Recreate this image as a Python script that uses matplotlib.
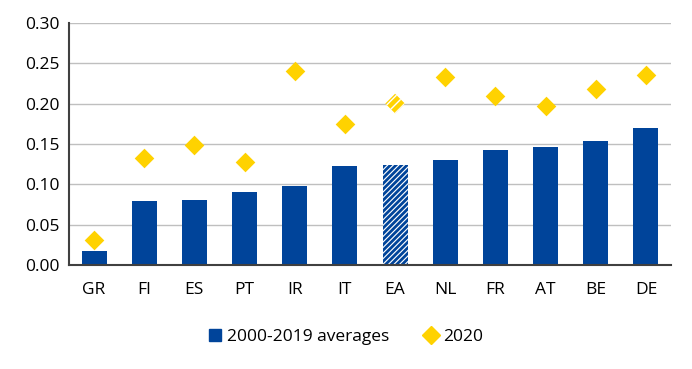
import matplotlib.pyplot as plt
from matplotlib.lines import Line2D
import numpy as np

plt.rcParams['font.family'] = ['Open Sans', 'DejaVu Sans']

countries = ['GR', 'FI', 'ES', 'PT', 'IR', 'IT', 'EA', 'NL', 'FR', 'AT', 'BE', 'DE']
avg_2000_2019 = [0.017, 0.079, 0.081, 0.091, 0.098, 0.123, 0.124, 0.130, 0.143, 0.146, 0.153, 0.170]
val_2020 = [0.031, 0.133, 0.149, 0.128, 0.240, 0.175, 0.200, 0.233, 0.209, 0.197, 0.218, 0.235]

blue = '#00449A'
yellow = '#FFD200'

fig = plt.figure(figsize=(6.92, 3.69), dpi=100)
ax = fig.add_axes([0.0997, 0.282, 0.87, 0.656])

x = np.arange(len(countries))
for i, c in enumerate(countries):
    if c == 'EA':
        with plt.rc_context({'hatch.linewidth': 2.0}):
            ax.bar(x[i], avg_2000_2019[i], width=0.5, color='white', edgecolor=blue,
                   hatch='//////', linewidth=0, zorder=2)
    else:
        ax.bar(x[i], avg_2000_2019[i], width=0.5, color=blue, zorder=2)

for i, c in enumerate(countries):
    if c == 'EA':
        with plt.rc_context({'hatch.linewidth': 1.0}):
            ax.scatter(x[i], val_2020[i], marker='D', s=100, facecolor=yellow, edgecolor='white',
                       hatch='////', linewidth=0, zorder=3)
    else:
        ax.scatter(x[i], val_2020[i], marker='D', s=100, color=yellow, linewidth=0, zorder=3)

ax.set_xlim(-0.5, len(countries) - 0.5)
ax.set_ylim(0, 0.30)
ax.set_yticks(np.arange(0, 0.31, 0.05))
ax.set_yticklabels([f'{v:.2f}' for v in np.arange(0, 0.31, 0.05)])
ax.set_xticks(x)
ax.set_xticklabels(countries)
ax.yaxis.grid(True, color='#BFBFBF', linewidth=1)
ax.set_axisbelow(True)
for s in ['top', 'right']:
    ax.spines[s].set_visible(False)
ax.spines['left'].set_color('#404040')
ax.spines['bottom'].set_color('#404040')
ax.spines['left'].set_linewidth(1.5)
ax.spines['bottom'].set_linewidth(1.5)
ax.tick_params(axis='both', length=0, labelsize=12.5, pad=12)
ax.tick_params(axis='y', pad=7)

handles = [Line2D([], [], marker='s', linestyle='none', markersize=9, color=blue),
           Line2D([], [], marker='D', linestyle='none', markersize=9, color=yellow)]
ax.legend(handles, ['2000-2019 averages', '2020'], loc='upper center',
          bbox_to_anchor=(0.46, -0.2), ncol=2, frameon=False,
          fontsize=12.5, handlelength=0.8, handletextpad=0.3, columnspacing=2.0)

fig.savefig('out.png', dpi=100)
